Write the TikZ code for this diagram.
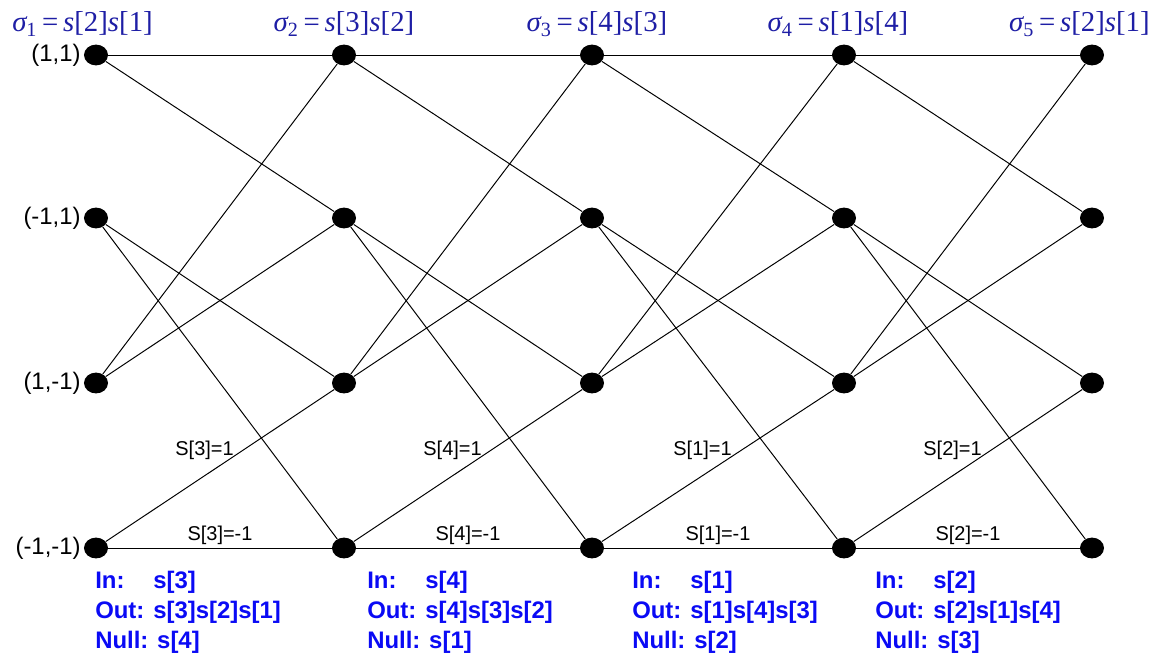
\documentclass[tikz,border=0pt]{standalone}
\usepackage{fontspec}
\setmainfont{Liberation Sans}
\newfontfamily\timesfont{Liberation Serif}
\usetikzlibrary{positioning, shapes.geometric}
\definecolor{Sigcolor}{RGB}{30,30,165}
\definecolor{Blkcolor}{RGB}{10,10,245}

\begin{document}
\begin{tikzpicture}[
  x=0.025cm, y=-0.025cm,
  dot/.style={ellipse, fill=black, inner sep=0pt,
              minimum width=0.6cm, minimum height=0.52cm},
  wire/.style={line width=0.7pt, color=black},
  slab/.style={font=\fontsize{17}{20}\selectfont, inner sep=1pt},
  elab/.style={font=\fontsize{14.2}{17}\selectfont, inner sep=2pt},
  sig/.style={font=\timesfont\fontsize{20.5}{24}\selectfont,
              text=Sigcolor, inner sep=0pt},
  blk/.style={font=\bfseries\fontsize{17}{21.3}\selectfont,
              text=Blkcolor, align=left, inner sep=0pt, anchor=north west}
]
\useasboundingbox (0,0) rectangle (1156,657);

%% Zustaende
\foreach \c/\x in {1/96,2/344,3/592,4/844,5/1092}
  \foreach \r/\y in {1/55,2/218,3/383,4/548}
    \node[dot] (n\c\r) at (\x,\y) {};

\node[slab, left=1pt of n11] (st1) {(1,1)};
\node[slab, left=1pt of n12] (st2) {(-1,1)};
\node[slab, left=1pt of n13] (st3) {(1,-1)};
\node[slab, left=1pt of n14] (st4) {(-1,-1)};

%% Zeitschritte
\node[sig, anchor=base west] (sig1) at (12,32)
  {{\itshape σ}\textsubscript{1}\,=\,{\itshape s}[2]{\itshape s}[1]};
\node[sig, anchor=base] (sig2) at (344,32)
  {{\itshape σ}\textsubscript{2}\,=\,{\itshape s}[3]{\itshape s}[2]};
\node[sig, anchor=base] (sig3) at (597,32)
  {{\itshape σ}\textsubscript{3}\,=\,{\itshape s}[4]{\itshape s}[3]};
\node[sig, anchor=base] (sig4) at (838,32)
  {{\itshape σ}\textsubscript{4}\,=\,{\itshape s}[1]{\itshape s}[4]};
\node[sig, anchor=base east] (sig5) at (1150,32)
  {{\itshape σ}\textsubscript{5}\,=\,{\itshape s}[2]{\itshape s}[1]};

%% Uebergaenge
\foreach \c/\k in {1/3,2/4,3/1,4/2} {
  \pgfmathtruncatemacro{\d}{\c+1}
  \draw[wire] (n\c1) -- (n\d1);
  \draw[wire] (n\c1) -- (n\d2);
  \draw[wire] (n\c2) -- (n\d3);
  \draw[wire] (n\c2) -- (n\d4);
  \draw[wire] (n\c3) -- (n\d1);
  \draw[wire] (n\c3) -- (n\d2);
  \draw[wire] (n\c4) -- node[elab, above=2pt, xshift=-11pt] {S[\k]=1} (n\d3);
  \draw[wire] (n\c4) -- node[elab, above] {S[\k]=-1} (n\d4);
}

%% In / Out / Null
\foreach \c/\x/\i/\o/\z in {1/95/3/{s[3]s[2]s[1]}/4,
                            2/367/4/{s[4]s[3]s[2]}/1,
                            3/632/1/{s[1]s[4]s[3]}/2,
                            4/875/2/{s[2]s[1]s[4]}/3}
  \node[blk] (io\c) at (\x,571)
    {\rlap{In:}\hphantom{Out: }s[\i]\\Out: \o\\Null: s[\z]};

\end{tikzpicture}
\end{document}
